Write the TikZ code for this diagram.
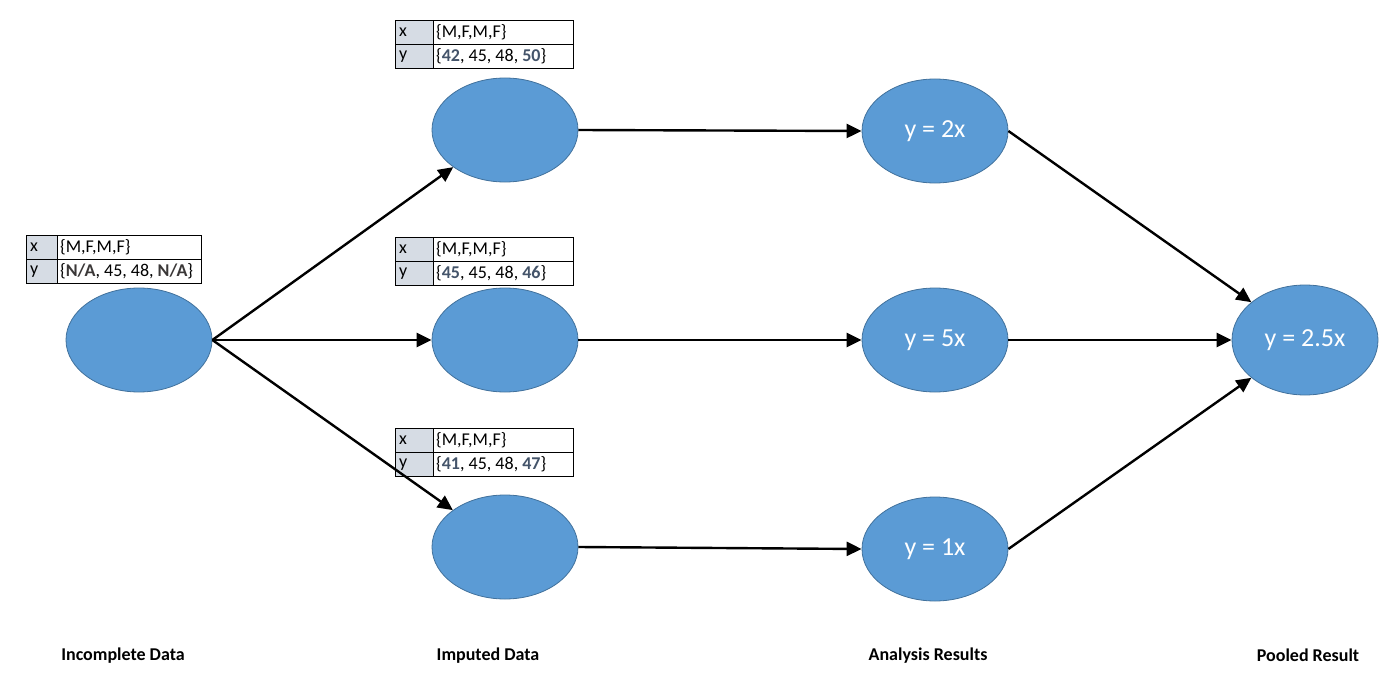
\documentclass[tikz,border=0pt]{standalone}
\usepackage{fontspec}
\setmainfont{Carlito}
\usetikzlibrary{arrows.meta,shapes.geometric}
\definecolor{ellfill}{HTML}{5B9BD5}
\definecolor{elldraw}{HTML}{41719C}
\definecolor{keyfill}{HTML}{D6DCE4}
\definecolor{impcol}{HTML}{44546A}
\definecolor{nacol}{HTML}{3B3838}
\newcommand{\datatable}[7]{%
  \node[keycell,minimum width=#4pt] (#1kx) at (#2,#3) {};
  \node[keycell,minimum width=#4pt] (#1ky) at (#2,#3+24) {};
  \node[valcell,minimum width=#5pt] (#1vx) at (#2+#4,#3) {};
  \node[valcell,minimum width=#5pt] (#1vy) at (#2+#4,#3+24) {};
  \node[celltext] (#1tkx) at ([xshift=4pt]#1kx.west) {x};
  \node[celltext] (#1tky) at ([xshift=4pt]#1ky.west) {y};
  \node[celltext] (#1tvx) at ([xshift=3pt]#1vx.west) {#6};
  \node[celltext] (#1tvy) at ([xshift=3pt]#1vy.west) {#7};
}
\begin{document}
\begin{tikzpicture}[x=1pt,y=-1pt,
  ell/.style={ellipse,draw=elldraw,fill=ellfill,line width=0.8pt,minimum width=146pt,minimum height=104pt,inner sep=0pt,text=white,font=\fontsize{26}{30}\selectfont},
  keycell/.style={draw=black,fill=keyfill,line width=0.9pt,minimum height=24pt,inner sep=0pt,anchor=north west},
  valcell/.style={draw=black,fill=white,line width=0.9pt,minimum height=24pt,inner sep=0pt,anchor=north west},
  celltext/.style={anchor=west,inner sep=0pt,font=\fontsize{18}{20}\selectfont},
  arr/.style={line width=2.4pt,-{Triangle[length=15pt,width=14pt]}},
  lbl/.style={font=\bfseries\fontsize{18}{20}\selectfont}]
\useasboundingbox (0,0) rectangle (1400,690);
% tables
\datatable{t0}{26}{235}{31}{144}{\{M,F,M,F\}}{\{\textbf{\textcolor{nacol}{N/A}}, 45, 48, \textbf{\textcolor{nacol}{N/A}}\}}
\datatable{t1}{395}{20}{38}{140}{\{M,F,M,F\}}{\{\textbf{\textcolor{impcol}{42}}, 45, 48, \textbf{\textcolor{impcol}{50}}\}}
\datatable{t2}{395}{237}{38}{140}{\{M,F,M,F\}}{\{\textbf{\textcolor{impcol}{45}}, 45, 48, \textbf{\textcolor{impcol}{46}}\}}
\datatable{t3}{395}{428}{38}{140}{\{M,F,M,F\}}{\{\textbf{\textcolor{impcol}{41}}, 45, 48, \textbf{\textcolor{impcol}{47}}\}}
% ellipses
\node[ell] (inc) at (139,340) {};
\node[ell] (imp1) at (505,130) {};
\node[ell] (imp2) at (505,340) {};
\node[ell] (imp3) at (505,547) {};
\node[ell] (an1) at (935,131) {y = 2x};
\node[ell] (an2) at (935,340) {y = 5x};
\node[ell] (an3) at (935,549) {y = 1x};
\node[ell,minimum height=110pt] (pool) at (1305,340) {y = 2.5x};
% arrows
\draw[arr] (inc.east) -- (imp1);
\draw[arr] (inc.east) -- (imp2.west);
\draw[arr] (inc.east) -- (imp3);
\draw[arr] (imp1.east) -- (an1.west);
\draw[arr] (imp2.east) -- (an2.west);
\draw[arr] (imp3.east) -- (an3.west);
\draw[arr] (an1.east) -- (pool);
\draw[arr] (an2.east) -- (pool.west);
\draw[arr] (an3.east) -- (pool);
% labels
\node[lbl] (l1) at (123,656) {Incomplete Data};
\node[lbl] (l2) at (488,656) {Imputed Data};
\node[lbl] (l3) at (928,656) {Analysis Results};
\node[lbl] (l4) at (1308,655) {Pooled Result};
\end{tikzpicture}
\end{document}
